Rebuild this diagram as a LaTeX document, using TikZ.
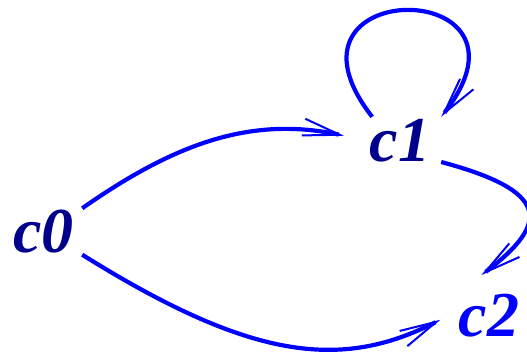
\documentclass[tikz,border=0pt]{standalone}
\usepackage{fontspec}
\setmainfont{Liberation Serif}
\usepackage{tikz}
\usetikzlibrary{arrows.meta}
\definecolor{statetext}{RGB}{0,0,140}
\tikzset{>={Straight Barb[length=37pt,width=17pt,line width'=2pt]}}
\tikzset{
  state/.style={inner sep=0pt, font=\fontsize{64}{64}\selectfont\bfseries\itshape},
  trans/.style={->, draw=blue, line width=4.2pt}
}

\begin{document}
\begin{tikzpicture}[x=1pt,y=1pt]
  \useasboundingbox (0,0) rectangle (527,353);
  % states
  \node[state, text=statetext, minimum width=77pt, minimum height=46pt] (c0) at (43.5,121.5) {c0};
  \node[state, text=statetext, minimum width=82pt, minimum height=48pt] (c1) at (400,212) {c1};
  \node[state, text=blue, minimum width=70pt, minimum height=56pt] (c2) at (489,37) {c2};
  % transitions
  \draw[trans, shorten >=15pt] (c0.north east) to[out=35,in=168] (c1.177);
  \draw[trans, shorten >=15pt] (c0.south east) .. controls +(-32:200pt) and +(207:126pt) .. (c2.175);
  \draw[trans] (c1.139) .. controls +(128:180pt) and +(52:180pt) .. (c1.north east);
  \draw[trans, shorten >=21pt] (c1.-27) to[out=-15,in=37,looseness=2.2] (c2.131);
\end{tikzpicture}
\end{document}
